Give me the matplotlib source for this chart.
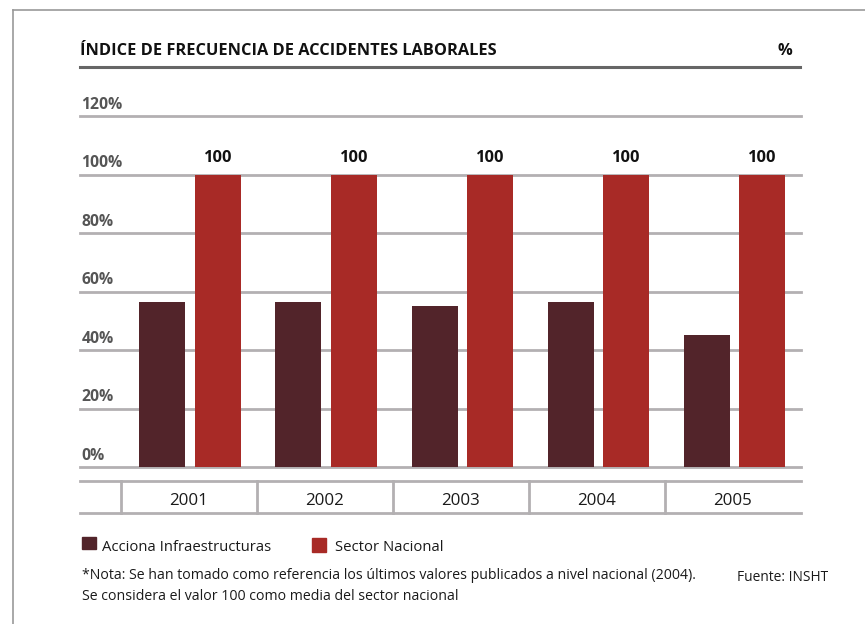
import matplotlib
matplotlib.use("Agg")
import matplotlib.pyplot as plt
from matplotlib.patches import Rectangle
from matplotlib.lines import Line2D
import matplotlib.transforms as mtransforms
import numpy as np

# ---------------- data ----------------
years = ["2001", "2002", "2003", "2004", "2005"]
acciona = [56.5, 56.5, 55.0, 56.5, 45.0]
sector = [100, 100, 100, 100, 100]
yticks = [0, 20, 40, 60, 80, 100, 120]
ytick_labels = ["0%", "20%", "40%", "60%", "80%", "100%", "120%"]
series_names = ["Acciona Infraestructuras", "Sector Nacional"]
title = "ÍNDICE DE FRECUENCIA DE ACCIDENTES LABORALES"
unit = "%"
note1 = "*Nota: Se han tomado como referencia los últimos valores publicados a nivel nacional (2004)."
note2 = "Se considera el valor 100 como media del sector nacional"
source = "Fuente: INSHT"

# ---------------- style ----------------
W, H = 865, 624
DARK = "#52242a"
RED = "#a82a26"
GRID = "#b3b0b2"
FONT = ["Open Sans", "DejaVu Sans"]
plt.rcParams["font.family"] = FONT

fig = plt.figure(figsize=(W / 100, H / 100), dpi=100)
fig.patch.set_facecolor("white")


def fx(x):
    return x / W


def fy(y):
    return 1 - y / H


# plot area in pixel coords
L, R, T, B = 80, 801, 116, 467
ax = fig.add_axes([fx(L), fy(B), fx(R) - fx(L), fy(T) - fy(B)])
ax.set_xlim(-0.8, len(years) - 0.5)
ax.set_ylim(0, 120)
ax.axis("off")

x = np.arange(len(years))
off = 0.204
bw = 0.338
ax.bar(x - off + 0.01, acciona, width=bw, color=DARK, zorder=3)
ax.bar(x + off + 0.01, sector, width=bw, color=RED, zorder=3)

# gridlines & labels
for v, lab in zip(yticks, ytick_labels):
    ax.axhline(v, color=GRID, lw=2.0, zorder=1, clip_on=False)
    ax.annotate(lab, xy=(-0.8, v), xytext=(1, 2.5), textcoords="offset points",
                ha="left", va="bottom", fontsize=11.3, fontweight="bold",
                color="#555555")

# value labels
for xi, v in zip(x, sector):
    ax.annotate(f"{v:g}", xy=(xi + off + 0.01, v), xytext=(0, 6), textcoords="offset points",
                ha="center", va="bottom", fontsize=11.8, fontweight="bold",
                color="#111111")

# frame
fig.add_artist(Line2D([fx(13), fx(13)], [fy(10), 0], color="#999999", lw=1.2))
fig.add_artist(Line2D([fx(13), 1], [fy(10), fy(10)], color="#999999", lw=1.2))

# title
fig.text(fx(80), fy(55), title, ha="left", va="baseline", fontsize=11.8,
         fontweight="bold", color="#111111")
fig.text(fx(792), fy(55), unit, ha="right", va="baseline", fontsize=11.8,
         fontweight="bold", color="#111111")
fig.add_artist(Line2D([fx(80), fx(800)], [fy(67), fy(67)], color="#666666", lw=2.2))

# year table
blend = mtransforms.blended_transform_factory(ax.transData, fig.transFigure)
t_top, t_bot = fy(480.7), fy(512.7)
fig.add_artist(Line2D([fx(80), fx(801)], [t_top, t_top], color=GRID, lw=2.0))
fig.add_artist(Line2D([fx(80), fx(801)], [t_bot, t_bot], color=GRID, lw=2.0))
for xi in x:
    fig.add_artist(Line2D([xi - 0.5, xi - 0.5], [t_top, t_bot], color=GRID, lw=2.0,
                          transform=blend))
for xi, yr in zip(x, years):
    fig.text(xi, fy(505), yr, transform=blend, ha="center", va="baseline",
             fontsize=12.2, color="#1a1a1a")

# legend
fig.add_artist(Rectangle((fx(82), fy(549)), fx(14), 12 / H, color=DARK, transform=fig.transFigure))
fig.text(fx(102), fy(551), series_names[0], ha="left", va="baseline", fontsize=10.7, color="#1a1a1a")
fig.add_artist(Rectangle((fx(312), fy(552)), fx(14), 14 / H, color=RED, transform=fig.transFigure))
fig.text(fx(335), fy(551), series_names[1], ha="left", va="baseline", fontsize=10.7, color="#1a1a1a")

# notes
fig.text(fx(82), fy(579), note1, ha="left", va="baseline", fontsize=10.2, color="#1a1a1a")
fig.text(fx(82), fy(600), note2, ha="left", va="baseline", fontsize=10.2, color="#1a1a1a")
fig.text(fx(737), fy(581), source, ha="left", va="baseline", fontsize=9.9, color="#1a1a1a")

fig.savefig("out.png", dpi=100, facecolor="white")
